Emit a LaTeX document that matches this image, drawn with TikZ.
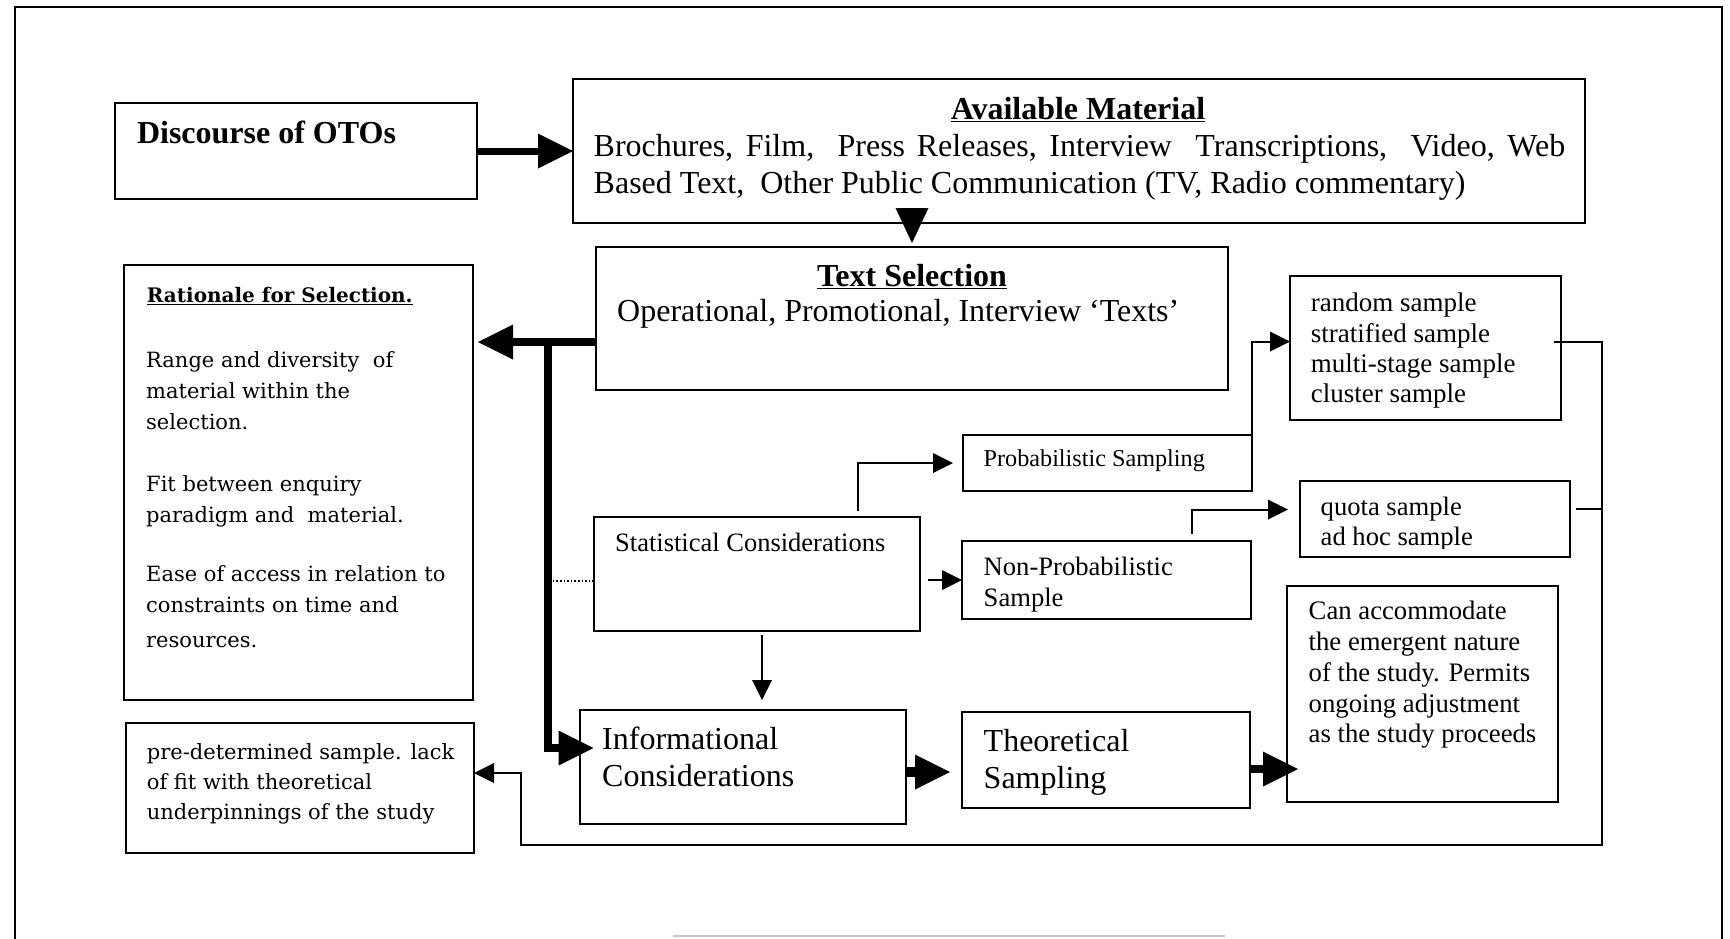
\documentclass[tikz,border=0pt]{standalone}
\usepackage{fontspec}
\setmainfont{Liberation Serif}
\newfontfamily\bookfont{DejaVu Serif}
\usetikzlibrary{arrows.meta}
\newcommand\fsz[2]{\fontsize{#1}{#2}\selectfont}
\newcommand\txtlines[2][640pt]{\parbox[t]{#1}{\raggedright #2}}
\begin{document}
\begin{tikzpicture}[x=1pt,y=-1pt,
  box/.style={draw, line width=2.2pt, inner sep=0pt, outer sep=0pt, anchor=north west},
  txt/.style={inner sep=0pt, anchor=base west},
  conn/.style={line width=2pt},
  arr/.style={line width=2pt, -{Triangle[length=20pt,width=20pt,line width=0pt]}},
  thk/.style={line width=8pt, -{Triangle[length=35pt,width=35pt,line width=0pt]}},
]
\useasboundingbox (0,0) rectangle (1730,938);

% page frame
\draw[line width=2pt] (15,940) -- (15,7) -- (1722,7) -- (1722,940);
\draw[line width=2pt, gray!45] (673,936) -- (1225,936);

% boxes
\node[box, minimum width=362, minimum height=96]  (disc)  at (115,103) {};
\node[box, minimum width=1012, minimum height=144] (avail) at (573,79) {};
\node[box, minimum width=632, minimum height=143] (tsel)  at (596,247) {};
\node[box, minimum width=349, minimum height=435] (rat)   at (124,265) {};
\node[box, minimum width=348, minimum height=130] (pred)  at (126,723) {};
\node[box, minimum width=326, minimum height=114] (stat)  at (594,517) {};
\node[box, minimum width=326, minimum height=114] (info)  at (580,710) {};
\node[box, minimum width=289, minimum height=56]  (prob)  at (963,435) {};
\node[box, minimum width=289, minimum height=78]  (nonp)  at (962,541) {};
\node[box, minimum width=288, minimum height=96]  (theo)  at (962,712) {};
\node[box, minimum width=271, minimum height=144] (rand)  at (1290,276) {};
\node[box, minimum width=270, minimum height=76]  (quota) at (1300,481) {};
\node[box, minimum width=271, minimum height=216] (can)   at (1287,586) {};

% texts
\node[txt, font=\bfseries\fsz{32}{36}] at (136.8,143) {Discourse of OTOs};
\node[inner sep=0pt, anchor=base, font=\bfseries\fsz{32}{36}] at (1078,119.3) {\underline{Available Material}};
\node[txt, font=\fsz{32}{36.3}] at (593.5,156.7) {\txtlines[1000pt]{\makebox[971.5pt][s]{Brochures, Film,\ \ Press Releases, Interview\ \ Transcriptions,\ \ Video, Web}\\Based Text,\ \ Other Public Communication (TV, Radio commentary)}};
\node[inner sep=0pt, anchor=base, font=\bfseries\fsz{32}{36}] at (912,286.7) {\underline{Text Selection}};
\node[txt, font=\fsz{32}{36}] at (617,321.7) {Operational, Promotional, Interview ‘Texts’};

\node[txt, font=\bookfont\bfseries\fsz{20}{24}] at (146.7,302.6) {\underline{Rationale for Selection.}};
\node[txt, font=\bookfont\fsz{21}{31}] at (146,367.5) {\txtlines{Range and diversity\ \ of\\material within the\\selection.\\[30.5pt]Fit between enquiry\\paradigm and\ \ material.\\[28pt]Ease of access in relation to\\constraints on time and\\[4pt]resources.}};
\node[txt, font=\bookfont\fsz{21}{30}] at (146.7,759) {\txtlines{pre-determined sample. lack\\of fit with theoretical\\underpinnings of the study}};

\node[txt, font=\fsz{26.5}{30}] at (615,551.7) {Statistical Considerations};
\node[txt, font=\fsz{32}{37}] at (602,749) {\txtlines{Informational\\Considerations}};
\node[txt, font=\fsz{24.2}{28}] at (983.5,466.7) {Probabilistic Sampling};
\node[txt, font=\fsz{26.6}{30.6}] at (983.5,575.7) {\txtlines{Non-Probabilistic\\Sample}};
\node[txt, font=\fsz{32}{36.2}] at (983.5,751.8) {\txtlines{Theoretical\\Sampling}};
\node[txt, font=\fsz{27}{30.4}] at (1310.7,311.7) {\txtlines{random sample\\stratified sample\\multi-stage sample\\cluster sample}};
\begin{scope}
  \clip (1300,481) rectangle (1570,548);
  \node[txt, font=\fsz{26.6}{29.5}] at (1320.5,515.6) {\txtlines{quota sample\\ad hoc sample}};
\end{scope}
\node[txt, font=\fsz{26.7}{30.8}] at (1308.5,619.7) {\txtlines{Can accommodate\\the emergent nature\\of the study. Permits\\ongoing adjustment\\as the study proceeds}};

% connectors
\draw[thk, line width=7pt] (disc.east) -- (avail.west |- disc.east);
\draw[line width=0pt, -{Triangle[length=35pt,width=33pt,line width=0pt]}]
  ([yshift=15pt]avail.south -| tsel.north) -- ([yshift=4pt]tsel.north);

\coordinate (ts) at ([yshift=-23.5pt]tsel.west);
\coordinate (j1) at (548,342);
\draw[thk, shorten >=5pt] (ts) -- (rat.east |- ts);
\draw[thk, shorten >=-13.5pt] (j1) |- ([yshift=19pt]info.west);
\draw[line width=1.6pt, dotted] ([yshift=-7pt]stat.west) -- (552,581);

\draw[arr, shorten >=10pt] ([xshift=-62pt,yshift=6pt]stat.north east) |- (prob.west);
\draw[arr] ([xshift=8pt]stat.east |- nonp.west) -- (nonp.west);
\draw[arr] ([xshift=5pt,yshift=-4pt]stat.south) -- ([xshift=5pt,yshift=10pt]stat.south |- info.north);

\draw[thk, line width=10pt, shorten >=12pt] ([yshift=-5pt]info.east) -- ([yshift=-5pt]info.east -| theo.west);
\draw[thk, shorten >=-11pt] ([yshift=-9pt]theo.east) -- ([yshift=-9pt]theo.east -| can.west);

\draw[arr] (prob.north east) |- ([yshift=6.5pt]rand.west);
\draw[arr, shorten >=12pt] ([xshift=-59pt,yshift=7pt]nonp.north east) |- ([yshift=9.5pt]quota.west);

\coordinate (rx) at (1602,845);
\coordinate (lx) at (521,845);
\draw[arr] ([xshift=-7pt,yshift=6.5pt]rand.east) -| (rx) -- (lx) |- ([yshift=15pt]pred.east);
\draw[conn] ([xshift=6pt,yshift=10.5pt]quota.east) -- ([yshift=10.5pt]quota.east -| rx);

\end{tikzpicture}
\end{document}
